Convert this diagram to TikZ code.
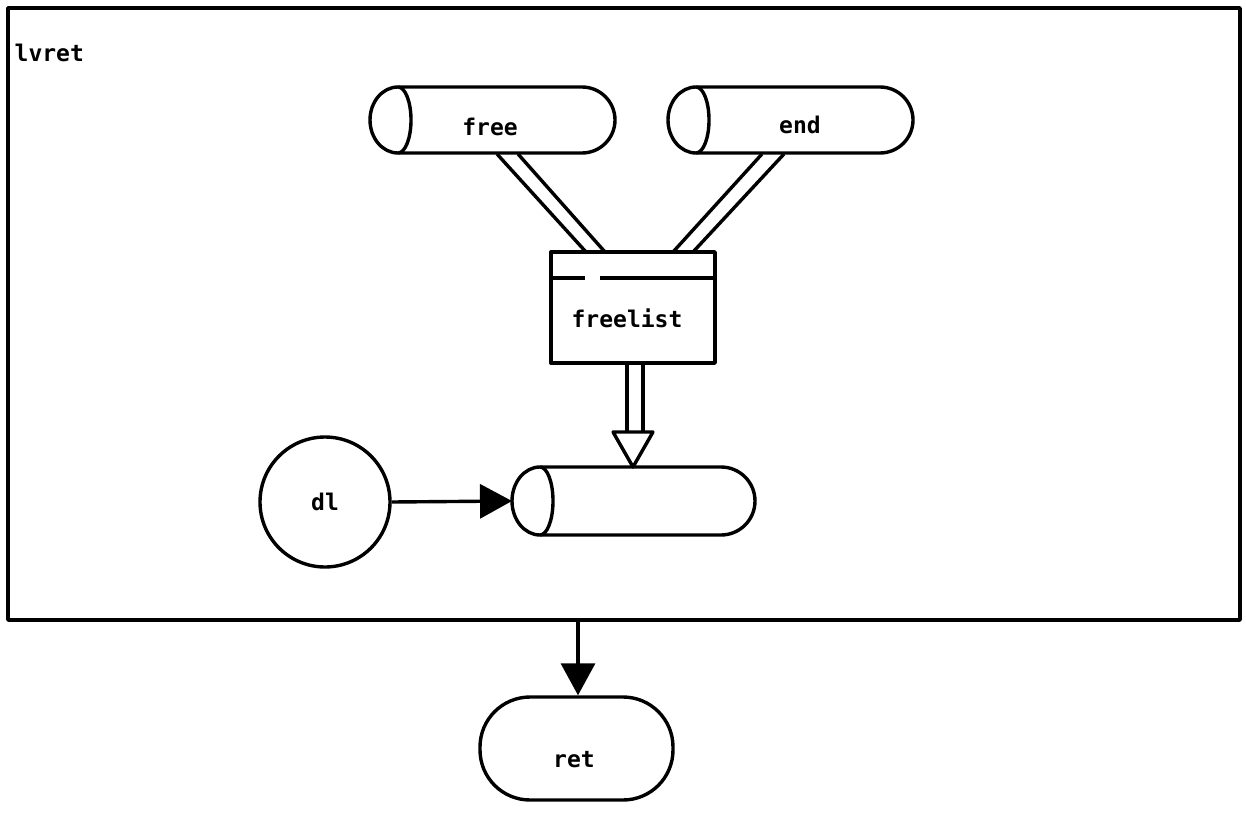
\documentclass[tikz,border=0pt]{standalone}
\usepackage{fontspec}
\setmainfont{DejaVu Sans Mono}
\usetikzlibrary{arrows.meta}
\newcommand\mycyl[5]{%
  % #1 name, #2 x1, #3 y1, #4 x2, #5 y2
  \pgfmathsetmacro\cr{(#5-#3)/2}
  \pgfmathsetmacro\cm{(#5+#3)/2}
  \draw ({#2+28},#3) -- ({#4-\cr},#3)
    arc[start angle=-90,end angle=90,x radius=\cr,y radius=\cr]
    -- ({#2+28},#5)
    arc[start angle=90,end angle=270,x radius=28,y radius=\cr];
  \draw ({#2+28},#3) arc[start angle=-90,end angle=90,x radius=13,y radius=\cr];
  \coordinate (#1-w) at (#2,\cm);
  \coordinate (#1-n) at ({(#2+#4)/2},#3);
}
\begin{document}
\begin{tikzpicture}[x=0.5pt,y=-0.5pt, line width=1.7pt, line join=round,
  lbl/.style={font=\bfseries\fontsize{11.5}{13}\selectfont, inner sep=0pt},
  conn/.style={line width=1.7pt},
  solidarrow/.style={-{Triangle[length=16pt,width=17pt]}}]
\useasboundingbox (0,0) rectangle (1246,813);
% frame
\draw (8,8) rectangle (1240,620);
\node[lbl, anchor=west] (title) at (13,53) {lvret};
\coordinate (frameb) at (578,620);
% cylinders
\mycyl{free}{370}{87}{615}{153}
\node[lbl] (freet) at (490,127) {free};
\mycyl{end}{668}{87}{913}{153}
\node[lbl] (endt) at (800,125) {end};
\mycyl{dst}{512}{467}{755}{535}
% freelist box
\node[draw, minimum width=82pt, minimum height=55.5pt, inner sep=0pt] (fl) at (633,307.5) {};
\draw (551,278) -- (585,278);
\draw (600,278) -- (715,278);
\node[lbl] (flt) at (627,318) {freelist};
% double lines
\coordinate (a1) at (497,154); \coordinate (b1) at (586,252);
\coordinate (a2) at (518,154); \coordinate (b2) at (605,252);
\coordinate (c1) at (762,154); \coordinate (d1) at (673,252);
\coordinate (c2) at (784,154); \coordinate (d2) at (693,252);
\draw[conn] (a1) -- (b1); \draw[conn] (a2) -- (b2);
\draw[conn] (c1) -- (d1); \draw[conn] (c2) -- (d2);
% double arrow down
\coordinate (s1) at (627,363); \coordinate (s2) at (643,363);
\coordinate (t1) at (627,432); \coordinate (t2) at (643,432);
\draw[conn] (s1) -- (t1); \draw[conn] (s2) -- (t2);
\coordinate (tip) at (633,467);
\draw[conn] (613,432) -- (653,432) -- (tip) -- cycle;
% dl circle
\node[draw, circle, minimum size=65pt, inner sep=0pt, lbl] (dl) at (325,502) {dl};
\draw[conn, solidarrow] (dl.east) -- (dst-w);
% ret
\node[draw, rounded corners=25pt, minimum width=96.5pt, minimum height=51.5pt, lbl] (ret) at (576.5,748.5) {};
\node[lbl] (rett) at (574,760) {ret};
\draw[conn, solidarrow] (frameb) -- (ret.north -| frameb);
\end{tikzpicture}
\end{document}
